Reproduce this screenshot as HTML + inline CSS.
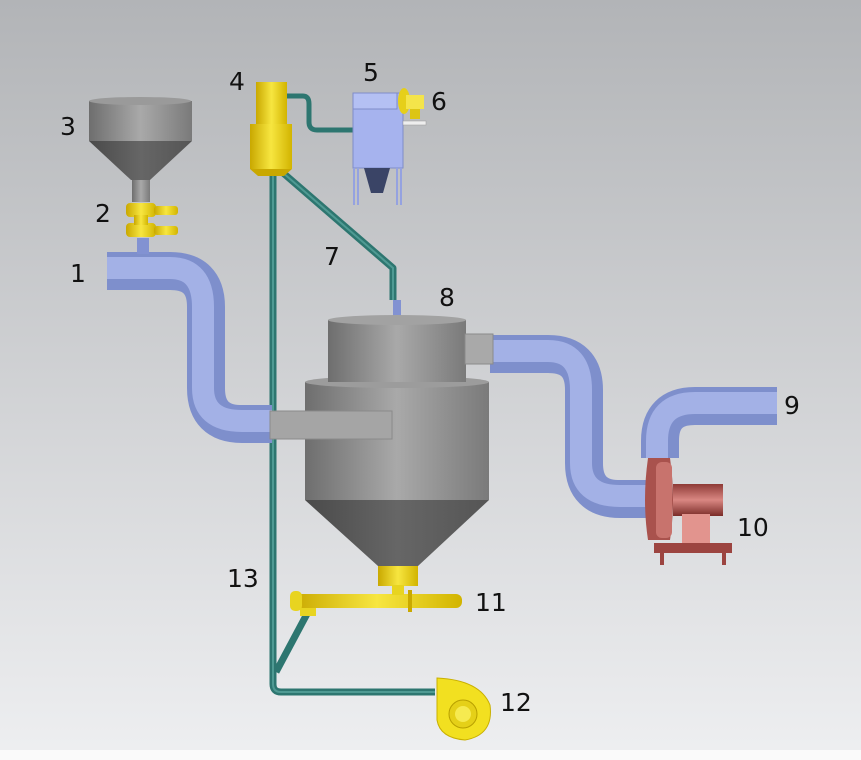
<!DOCTYPE html>
<html><head><meta charset="utf-8"><style>
html,body{margin:0;padding:0;width:861px;height:760px;overflow:hidden}
svg{display:block}
text{font-family:"DejaVu Sans","Liberation Sans",sans-serif;font-size:25px;fill:#111}
</style></head><body>
<svg width="861" height="760" viewBox="0 0 861 760">
<defs>
<linearGradient id="bg" x1="0" y1="0" x2="0" y2="1"><stop offset="0" stop-color="#b2b4b7"/><stop offset="1" stop-color="#eeeff1"/></linearGradient>
<linearGradient id="cyl" x1="0" y1="0" x2="1" y2="0"><stop offset="0" stop-color="#6e6e6e"/><stop offset=".5" stop-color="#a9a9a9"/><stop offset="1" stop-color="#7a7a7a"/></linearGradient>
<linearGradient id="cone" x1="0" y1="0" x2="1" y2="0"><stop offset="0" stop-color="#4a4a4a"/><stop offset=".5" stop-color="#666"/><stop offset="1" stop-color="#555"/></linearGradient>
<linearGradient id="yel" x1="0" y1="0" x2="1" y2="0"><stop offset="0" stop-color="#c9a800"/><stop offset=".5" stop-color="#f7e640"/><stop offset="1" stop-color="#d2b400"/></linearGradient>
<linearGradient id="red" x1="0" y1="0" x2="0" y2="1"><stop offset="0" stop-color="#8e3a36"/><stop offset=".5" stop-color="#d98782"/><stop offset="1" stop-color="#7a2c28"/></linearGradient>
</defs>
<rect width="861" height="760" fill="url(#bg)"/>
<rect x="0" y="750" width="861" height="10" fill="#fafafa"/>
<g fill="none" stroke="#2d7670" stroke-width="7" stroke-linejoin="round">
<path d="M273 172 V684 Q273 692 281 692 H435"/>
<path d="M282 172 L393 268 V300"/>
<path d="M308 612 L276 672"/>
<path d="M287 96 H303 Q309 96 309 104 V122 Q309 130 317 130 H353" stroke-width="5"/>
</g>
<g fill="none" stroke="#4f9a93" stroke-width="2">
<path d="M273 172 V684 Q273 692 281 692 H435"/>
<path d="M282 172 L393 268 V300"/>
</g>
<g fill="none" stroke-linejoin="round">
<path d="M107 271 H170 Q206 271 206 307 V388 Q206 424 242 424 H272" stroke="#7e8fcc" stroke-width="38"/>
<path d="M107 268 H170 Q203 268 203 307 V388 Q203 421 242 421 H272" stroke="#a3b1e6" stroke-width="22"/>
<path d="M490 354 H548 Q584 354 584 390 V463 Q584 499 620 499 H650" stroke="#7e8fcc" stroke-width="38"/>
<path d="M490 351 H548 Q581 351 581 390 V463 Q581 496 620 496 H650" stroke="#a3b1e6" stroke-width="22"/>
<path d="M660 458 V441 Q660 406 695 406 H777" stroke="#7e8fcc" stroke-width="38"/>
<path d="M657 458 V441 Q657 403 695 403 H777" stroke="#a3b1e6" stroke-width="22"/>
<rect x="393" y="300" width="8" height="18" fill="#8292d2" stroke="none"/>
<rect x="137" y="238" width="12" height="16" fill="#8292d2" stroke="none"/>
</g>
<rect x="89" y="101" width="103" height="40" fill="url(#cyl)"/>
<ellipse cx="140" cy="101" rx="51" ry="4" fill="#9a9a9a"/>
<path d="M89 141 H192 L150 180 H131 Z" fill="url(#cone)"/>
<rect x="132" y="180" width="18" height="22" fill="url(#cyl)"/>
<g fill="url(#yel)">
<rect x="126" y="203" width="30" height="14" rx="4"/><rect x="154" y="206" width="24" height="9" rx="3"/>
<rect x="126" y="223" width="30" height="14" rx="4"/><rect x="154" y="226" width="24" height="9" rx="3"/>
<rect x="134" y="215" width="14" height="10"/>
</g>
<rect x="305" y="382" width="184" height="118" fill="url(#cyl)"/>
<ellipse cx="397" cy="382" rx="92" ry="6" fill="#9c9c9c"/>
<rect x="328" y="320" width="138" height="62" fill="url(#cyl)"/>
<ellipse cx="397" cy="320" rx="69" ry="5" fill="#a2a2a2"/>
<path d="M305 500 H489 L418 566 H378 Z" fill="url(#cone)"/>
<rect x="378" y="566" width="40" height="20" fill="url(#yel)"/>
<rect x="270" y="411" width="122" height="28" fill="#a5a5a5" stroke="#8a8a8a"/>
<rect x="465" y="334" width="28" height="30" fill="#a9a9a9" stroke="#8a8a8a"/>
<rect x="292" y="594" width="170" height="14" rx="6" fill="url(#yel)"/>
<rect x="290" y="591" width="12" height="20" rx="5" fill="#e8d420"/>
<rect x="392" y="585" width="12" height="10" fill="#e8d420"/>
<rect x="408" y="590" width="4" height="22" fill="#caa900"/>
<rect x="300" y="608" width="16" height="8" fill="#e8d420"/>
<rect x="256" y="82" width="31" height="42" fill="url(#yel)"/>
<rect x="250" y="124" width="42" height="45" fill="url(#yel)"/>
<path d="M250 169 H292 L284 176 H258 Z" fill="#c9a800"/>
<rect x="353" y="93" width="50" height="75" fill="#a6b3ee" stroke="#7f8cc8"/>
<rect x="353" y="93" width="44" height="16" fill="#b4c0f3" stroke="#7f8cc8"/>
<path d="M354 168 V205 M358 168 V205 M397 168 V205 M401 168 V205" stroke="#95a2e0" stroke-width="2"/>
<path d="M364 168 H390 L383 193 H371 Z" fill="#3a4466"/>
<rect x="403" y="121" width="23" height="4" fill="#eeeeee" stroke="#999" stroke-width=".5"/>
<ellipse cx="404" cy="101" rx="6" ry="13" fill="#e6cf1a"/>
<rect x="406" y="95" width="18" height="14" fill="#f4e44a"/>
<rect x="410" y="109" width="10" height="10" fill="#ddc514"/>
<rect x="673" y="484" width="50" height="32" fill="url(#red)"/>
<rect x="682" y="514" width="28" height="32" fill="#e2948e"/>
<rect x="654" y="543" width="78" height="10" fill="#9c4440"/>
<rect x="660" y="553" width="4" height="12" fill="#9c4440"/><rect x="722" y="553" width="4" height="12" fill="#9c4440"/>
<path d="M648 458 H670 Q676 500 670 540 H648 Q642 500 648 458 Z" fill="#a9524d"/>
<rect x="656" y="462" width="16" height="76" rx="6" fill="#c8736d"/>
<path d="M437 678 Q480 680 490 705 Q494 735 465 740 Q440 738 437 720 Z" fill="#f2e020" stroke="#c9b000"/>
<circle cx="463" cy="714" r="14" fill="#e5d018" stroke="#b8a000"/>
<circle cx="463" cy="714" r="8" fill="#f6ea50"/>
<text x="70" y="282">1</text>
<text x="95" y="222">2</text>
<text x="60" y="135">3</text>
<text x="229" y="90">4</text>
<text x="363" y="81">5</text>
<text x="431" y="110">6</text>
<text x="324" y="265">7</text>
<text x="439" y="306">8</text>
<text x="784" y="414">9</text>
<text x="737" y="536">10</text>
<text x="475" y="611">11</text>
<text x="500" y="711">12</text>
<text x="227" y="587">13</text>
</svg>
</body></html>
